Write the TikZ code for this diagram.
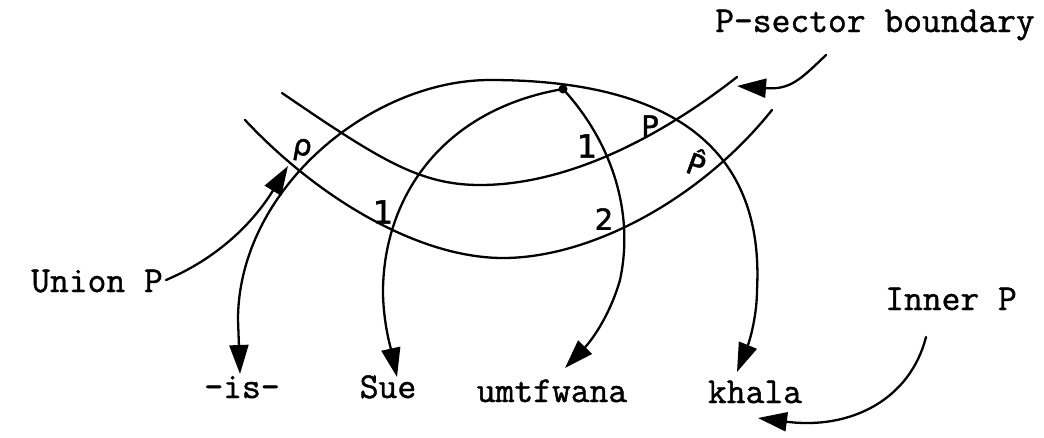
\documentclass[tikz,border=0pt]{standalone}
\usepackage{fontspec}
\setmonofont{Latin Modern Mono}[UprightFeatures={FakeBold=1.2}]
\newfontfamily\hand{DejaVu Sans}[UprightFeatures={FakeBold=1.5}]
\usetikzlibrary{arrows.meta}
\begin{document}
\begin{tikzpicture}[x=1pt,y=-1pt,
  line/.style={line width=2.3pt, line cap=round},
  arr/.style={line, -{Triangle[length=29pt,width=19pt]}},
  lbl/.style={font=\fontsize{36.5}{40}\selectfont\ttfamily, inner sep=0pt, anchor=base},
  hw/.style={font=\fontsize{29}{32}\selectfont\hand, inner sep=0pt}]
\useasboundingbox (0,0) rectangle (1044,437);
% text labels
\node[lbl] (psec) at (875,32) {P-sector boundary};
\node[lbl] (union) at (97,292) {Union P};
\node[lbl] (inner) at (951,310) {Inner P};
\node[lbl] (is) at (242,398) {-is-};
\node[lbl] (sue) at (388,398) {Sue};
\node[lbl] (umt) at (552,402) {umtfwana};
\node[lbl] (khala) at (755,403) {khala};
% band (P-sector boundaries)
\draw[line] (282,93) .. controls (380,160) and (420,185) .. (480,185) .. controls (560,185) and (650,145) .. (737,77);
\draw[line] (245,120) .. controls (320,200) and (420,258) .. (503,258) .. controls (590,258) and (700,200) .. (772,110);
% arc coordinates
\coordinate (apex) at (490,80);
\coordinate (dot) at (563,89);
\coordinate (isTip) at (240,374);
\coordinate (sueTip) at (397,377);
\coordinate (umTip) at (565,368);
\coordinate (khTip) at (737,372);
% arc A
\draw[arr] (apex) .. controls (370,80) and (238,190) .. (238,320) -- (isTip);
\draw[arr] (apex) .. controls (660,80) and (765,140) .. (757,290) .. controls (757,315) and (750,340) .. (khTip);
% arc B
\fill (dot) circle (4.5);
\draw[arr] (dot) .. controls (440,110) and (382,200) .. (383,295) .. controls (384,325) and (390,345) .. (sueTip);
\draw[arr] (dot) .. controls (610,140) and (635,210) .. (620,280) .. controls (610,315) and (592,340) .. (umTip);
% pointer arrows
\coordinate (unionStart) at (166,280);
\coordinate (unionTip) at (288,166);
\coordinate (psecStart) at (826,55);
\coordinate (psecTip) at (737,86);
\coordinate (innerStart) at (926,337);
\coordinate (innerTip) at (758,418);
\draw[arr] (unionStart) .. controls (225,255) and (258,215) .. (unionTip);
\draw[arr] (psecStart) .. controls (800,80) and (790,90) .. (psecTip);
\draw[arr] (innerStart) .. controls (910,400) and (850,430) .. (innerTip);
% handwritten labels
\node[hw, rotate=-10] (lp) at (302,150) {ρ};
\node[hw, scale=1.1] (one1) at (383,212) {1};
\node[hw, scale=1.1] (one2) at (587,146) {1};
\node[hw] (two) at (604,219) {2};
\node[hw] (pP) at (650,126) {P};
\node[hw, rotate=-20] (ph) at (697,162) {\^{P}};
\end{tikzpicture}
\end{document}
